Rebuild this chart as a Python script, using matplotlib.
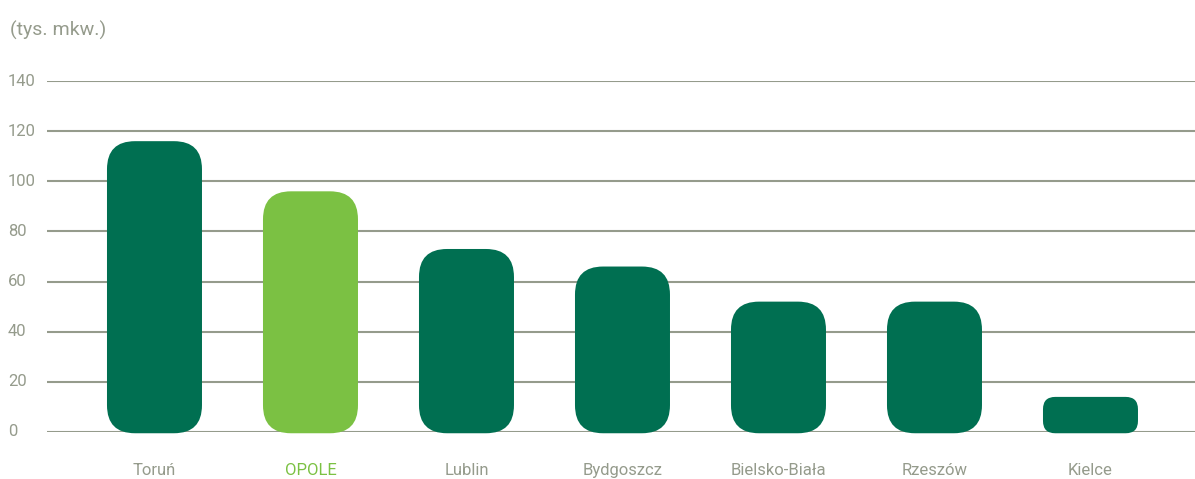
import matplotlib
matplotlib.use("Agg")
import matplotlib.pyplot as plt
from matplotlib.patches import FancyBboxPatch
from matplotlib.transforms import blended_transform_factory
from matplotlib import font_manager

categories = ["Toruń", "OPOLE", "Lublin", "Bydgoszcz", "Bielsko-Biała", "Rzeszów", "Kielce"]
values = [116, 96, 73, 66, 52, 52, 14]
highlight = "OPOLE"
y_ticks = [0, 20, 40, 60, 80, 100, 120, 140]
unit_label = "(tys. mkw.)"

names = {f.name for f in font_manager.fontManager.ttflist}
fam = ["Liberation Sans Narrow", "DejaVu Sans"] if "Liberation Sans Narrow" in names else ["Roboto", "DejaVu Sans"]
plt.rcParams["font.family"] = fam

W, H = 1195, 479
fig = plt.figure(figsize=(W / 100, H / 100), dpi=100)
ax = fig.add_axes([47 / W, (H - 432) / H, 1148 / W, 351 / H])

dark = "#006f51"
light = "#7bc143"
grey = "#959b8c"

xmin, xmax = -0.689, 6.67
ymin, ymax = 0, 140
ax.set_xlim(xmin, xmax)
ax.set_ylim(ymin, ymax)

for t in y_ticks:
    ax.axhline(t, color=grey, lw=1.5, zorder=1)

px_x = 1148 / (xmax - xmin)
px_y = 351 / (ymax - ymin)
aspect = px_x / px_y
width = 0.609
for i, (c, v) in enumerate(zip(categories, values)):
    h_px = v * px_y
    r_px = min(28, h_px * 0.35)
    r = r_px / px_x
    col = light if c == highlight else dark
    p = FancyBboxPatch((i - width / 2, -0.5), width, v + 0.5,
                       boxstyle=f"round,pad=0,rounding_size={r}",
                       mutation_aspect=aspect, fc=col, ec="none",
                       zorder=2, clip_on=False)
    ax.add_patch(p)

ax.set_yticks([])
tr = blended_transform_factory(fig.transFigure, ax.transData)
for t in y_ticks:
    fig.text(8 / W, t, str(t), transform=tr, fontsize=12, color=grey,
             ha="left", va="center")

ax.set_xticks(range(len(categories)))
ax.set_xticklabels(categories, fontsize=12)
for lbl, c in zip(ax.get_xticklabels(), categories):
    lbl.set_color(light if c == highlight else grey)
ax.tick_params(axis="x", length=0, pad=22)
for s in ax.spines.values():
    s.set_visible(False)

fig.text(10 / W, 1 - 30 / H, unit_label, fontsize=14, color=grey, va="center", ha="left")

fig.savefig("out.png", dpi=100, facecolor="white")
